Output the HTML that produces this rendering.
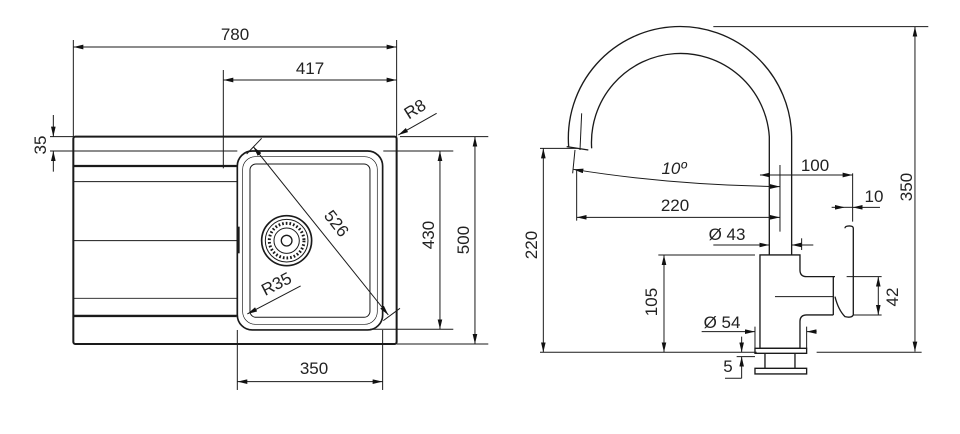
<!DOCTYPE html>
<html><head><meta charset="utf-8"><style>
html,body{margin:0;padding:0;background:#fff;width:960px;height:434px;overflow:hidden}
svg{display:block}
text{font-family:"Liberation Sans",sans-serif;fill:#222}
</style></head><body>
<svg width="960" height="434" viewBox="0 0 960 434" xmlns="http://www.w3.org/2000/svg">
<defs>
<marker id="a" markerUnits="userSpaceOnUse" markerWidth="30" markerHeight="14" refX="30" refY="7" orient="auto-start-reverse"><path d="M0,0 L30,7 L0,14 Z" fill="#111"/></marker>
</defs>
<g transform="translate(40,90) scale(0.3333)" fill="none" stroke="#1a1a1a" stroke-width="3">
  <line x1="100" y1="-150" x2="100" y2="140"/>
  <line x1="1070" y1="-150" x2="1070" y2="140"/>
  <line x1="100" y1="-129" x2="1070" y2="-129" marker-start="url(#a)" marker-end="url(#a)"/>
  <line x1="550" y1="-60" x2="550" y2="235"/>
  <line x1="550" y1="-30" x2="1070" y2="-30" marker-start="url(#a)" marker-end="url(#a)"/>
  <rect x="100" y="140" width="970" height="622" rx="6" stroke-width="6"/>
  <line x1="100" y1="228" x2="590" y2="228" stroke-width="7"/>
  <line x1="100" y1="275" x2="590" y2="275"/>
  <line x1="100" y1="452" x2="590" y2="452"/>
  <line x1="100" y1="625" x2="590" y2="625"/>
  <line x1="100" y1="678" x2="590" y2="678" stroke-width="7"/>
  <line x1="596" y1="410" x2="596" y2="490" stroke-width="6"/>
  <rect x="592" y="183" width="436" height="537" rx="45" stroke-width="5"/>
  <rect x="608" y="200" width="404" height="503" rx="38" stroke-width="2"/>
  <rect x="630" y="222" width="360" height="460" rx="18" stroke-width="3"/>
  <circle cx="740" cy="452" r="75" stroke-width="5"/>
  <circle cx="740" cy="452" r="64" stroke-width="3"/>
  <circle cx="740" cy="452" r="52" stroke-width="9" stroke-dasharray="5 6"/>
  <circle cx="740" cy="452" r="38" stroke-width="3"/>
  <circle cx="740" cy="452" r="16" stroke-width="4"/>
  <line x1="620" y1="192" x2="665" y2="145"/>
  <line x1="1030" y1="692" x2="1080" y2="655"/>
  <line x1="640" y1="170" x2="1045" y2="675" marker-start="url(#a)" marker-end="url(#a)"/>
  <line x1="782" y1="588" x2="622" y2="672" marker-end="url(#a)"/>
  <line x1="1190" y1="70" x2="1075" y2="135" marker-end="url(#a)"/>
  <line x1="30" y1="140" x2="100" y2="140"/>
  <line x1="30" y1="183" x2="592" y2="183"/>
  <line x1="40" y1="75" x2="40" y2="140" marker-end="url(#a)"/>
  <line x1="40" y1="245" x2="40" y2="183" marker-end="url(#a)"/>
  <line x1="1030" y1="183" x2="1240" y2="183"/>
  <line x1="990" y1="718" x2="1240" y2="718"/>
  <line x1="1200" y1="183" x2="1200" y2="718" marker-start="url(#a)" marker-end="url(#a)"/>
  <line x1="1080" y1="140" x2="1345" y2="140"/>
  <line x1="1070" y1="762" x2="1345" y2="762"/>
  <line x1="1305" y1="140" x2="1305" y2="762" marker-start="url(#a)" marker-end="url(#a)"/>
  <line x1="592" y1="720" x2="592" y2="900"/>
  <line x1="1028" y1="720" x2="1028" y2="900"/>
  <line x1="592" y1="875" x2="1028" y2="875" marker-start="url(#a)" marker-end="url(#a)"/>
</g>
<g font-size="17">
  <text x="235" y="40" text-anchor="middle">780</text>
  <text x="310" y="74" text-anchor="middle">417</text>
  <text x="314" y="374" text-anchor="middle">350</text>
  <text transform="translate(46,145) rotate(-90)" text-anchor="middle">35</text>
  <text transform="translate(434,235) rotate(-90)" text-anchor="middle">430</text>
  <text transform="translate(469,240) rotate(-90)" text-anchor="middle">500</text>
  <text transform="translate(332,227) rotate(52)" text-anchor="middle">526</text>
  <text transform="translate(279,289) rotate(-27)" text-anchor="middle">R35</text>
  <text transform="translate(418,114) rotate(-32)" text-anchor="middle">R8</text>
</g>
<g transform="translate(520,10) scale(0.3333)" fill="none" stroke="#1a1a1a" stroke-width="3">
  <path d="M815,735 L815,380 A335,335 0 1 0 146,410" stroke-width="4"/>
  <path d="M748,735 L748,380 A267,267 0 1 0 215,415" stroke-width="4"/>
  <line x1="140" y1="410" x2="205" y2="420" stroke-width="4"/>
  <line x1="185" y1="310" x2="180" y2="420"/>
  <line x1="165" y1="420" x2="158" y2="490"/>
  <path d="M720,1015 L720,735 L840,735 L840,780 Q840,800 860,800 L945,800" stroke-width="4"/>
  <path d="M720,1015 L840,1015 L840,935 Q840,915 860,915 L940,915" stroke-width="4"/>
  <line x1="765" y1="860" x2="940" y2="860"/>
  <path d="M940,800 L940,915" stroke-width="4"/>
  <path d="M975,655 Q975,648 988,648 Q1000,648 1000,655 L1000,915 Q995,925 975,920 Q955,900 945,860" stroke-width="4"/>
  <path d="M705,1015 L860,1015 L860,1030 L705,1030 Z" stroke-width="4"/>
  <line x1="735" y1="1030" x2="735" y2="1075" stroke-width="4"/>
  <line x1="825" y1="1030" x2="825" y2="1075" stroke-width="4"/>
  <path d="M705,1075 L860,1075 L860,1092 L705,1092 Z" stroke-width="4"/>
  <line x1="580" y1="50" x2="1225" y2="50"/>
  <line x1="1185" y1="50" x2="1185" y2="1025" marker-start="url(#a)" marker-end="url(#a)"/>
  <line x1="60" y1="1027" x2="710" y2="1027"/>
  <line x1="890" y1="1027" x2="1205" y2="1027"/>
  <line x1="60" y1="415" x2="170" y2="415"/>
  <line x1="70" y1="415" x2="70" y2="1027" marker-start="url(#a)" marker-end="url(#a)"/>
  <line x1="415" y1="735" x2="705" y2="735"/>
  <line x1="432" y1="735" x2="432" y2="1027" marker-start="url(#a)" marker-end="url(#a)"/>
  <line x1="780" y1="465" x2="780" y2="665"/>
  <line x1="998" y1="490" x2="998" y2="635"/>
  <line x1="720" y1="495" x2="998" y2="495" marker-start="url(#a)" marker-end="url(#a)"/>
  <path d="M160,478 Q450,525 780,530" marker-start="url(#a)" marker-end="url(#a)"/>
  <line x1="170" y1="480" x2="170" y2="632"/>
  <line x1="170" y1="622" x2="780" y2="622" marker-start="url(#a)" marker-end="url(#a)"/>
  <line x1="935" y1="592" x2="975" y2="592" marker-end="url(#a)"/>
  <line x1="1080" y1="592" x2="998" y2="592" marker-end="url(#a)"/>
  <line x1="975" y1="592" x2="998" y2="592"/>
  <line x1="580" y1="705" x2="748" y2="705" marker-end="url(#a)"/>
  <line x1="880" y1="705" x2="815" y2="705" marker-end="url(#a)"/>
  <line x1="845" y1="685" x2="845" y2="720"/>
  <line x1="980" y1="800" x2="1085" y2="800"/>
  <line x1="1000" y1="915" x2="1085" y2="915"/>
  <line x1="1075" y1="800" x2="1075" y2="915" marker-start="url(#a)" marker-end="url(#a)"/>
  <line x1="545" y1="965" x2="705" y2="965" marker-end="url(#a)"/>
  <line x1="890" y1="965" x2="860" y2="965" marker-end="url(#a)"/>
  <line x1="705" y1="950" x2="705" y2="1015"/>
  <line x1="860" y1="950" x2="860" y2="1015"/>
  <line x1="665" y1="980" x2="665" y2="1027" marker-end="url(#a)"/>
  <line x1="665" y1="1105" x2="665" y2="1040" marker-end="url(#a)"/>
  <line x1="650" y1="1040" x2="705" y2="1040"/>
  <line x1="615" y1="1105" x2="665" y2="1105"/>
</g>
<g font-size="17">
  <text transform="translate(912,187) rotate(-90)" text-anchor="middle">350</text>
  <text transform="translate(537,245) rotate(-90)" text-anchor="middle">220</text>
  <text transform="translate(657,302) rotate(-90)" text-anchor="middle">105</text>
  <text transform="translate(898,297) rotate(-90)" text-anchor="middle">42</text>
  <text x="815" y="171" text-anchor="middle">100</text>
  <text x="674" y="174" text-anchor="middle" font-style="italic">10º</text>
  <text x="675" y="211" text-anchor="middle">220</text>
  <text x="874" y="202" text-anchor="middle">10</text>
  <text x="727" y="240" text-anchor="middle">Ø 43</text>
  <text x="722" y="328" text-anchor="middle">Ø 54</text>
  <text x="728" y="372" text-anchor="middle">5</text>
</g>
</svg>
</body></html>
